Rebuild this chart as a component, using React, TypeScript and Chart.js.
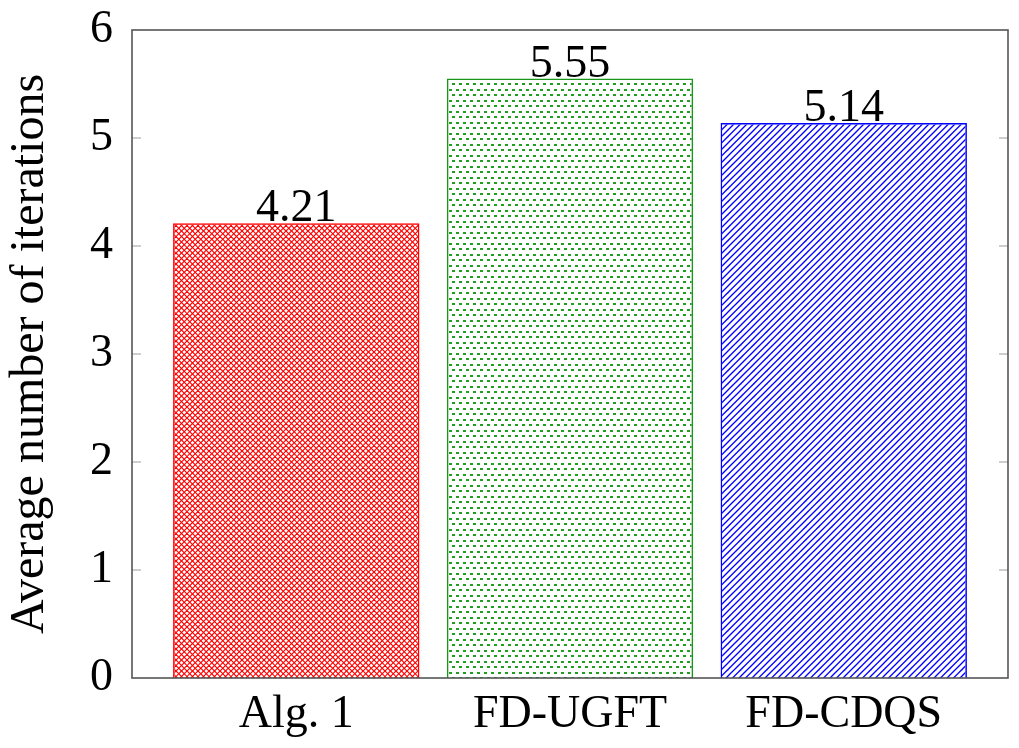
import React, { useEffect, useRef } from "react";
import { Chart, registerables } from "chart.js";

Chart.register(...registerables);

// Methods compared and their average iteration counts
const CATEGORIES = ["Alg. 1", "FD-UGFT", "FD-CDQS"];
const AVG_ITERATIONS = [4.21, 5.55, 5.14];
const Y_TICKS = [0, 1, 2, 3, 4, 5, 6];
const Y_TITLE = "Average number of iterations";

const FONT = "'Liberation Serif', 'Times New Roman', serif";
const FONT_SIZE = 46;
const TITLE_SIZE = 48;

// Hatch fill: diagonal crosshatch
function crosshatch(color: string): CanvasPattern | string {
  const t = 11;
  const c = document.createElement("canvas");
  c.width = t;
  c.height = t;
  const ctx = c.getContext("2d");
  if (!ctx) return color;
  ctx.strokeStyle = color;
  ctx.lineWidth = 1.2;
  for (let k = -3; k <= 6; k++) {
    const o = k * 5.5;
    ctx.beginPath();
    ctx.moveTo(-5, o + 5);
    ctx.lineTo(t + 5, o - t - 5);
    ctx.stroke();
    ctx.beginPath();
    ctx.moveTo(-5, -5 - o);
    ctx.lineTo(t + 5, t + 5 - o);
    ctx.stroke();
  }
  return ctx.createPattern(c, "repeat") || color;
}

// Hatch fill: staggered dots
function dots(color: string): CanvasPattern | string {
  const w = 14;
  const h = 11;
  const c = document.createElement("canvas");
  c.width = w;
  c.height = h;
  const ctx = c.getContext("2d");
  if (!ctx) return color;
  ctx.fillStyle = color;
  ctx.fillRect(1, 1, 3, 2);
  ctx.fillRect(8, 1, 3, 2);
  ctx.fillRect(4, 6, 3, 2);
  ctx.fillRect(11, 6, 3, 2);
  return ctx.createPattern(c, "repeat") || color;
}

// Hatch fill: north-east diagonal lines
function northEastLines(color: string): CanvasPattern | string {
  const t = 13;
  const c = document.createElement("canvas");
  c.width = t;
  c.height = t;
  const ctx = c.getContext("2d");
  if (!ctx) return color;
  ctx.strokeStyle = color;
  ctx.lineWidth = 1.3;
  for (let k = -2; k <= 6; k++) {
    const o = k * 6.5;
    ctx.beginPath();
    ctx.moveTo(-5, o + 5);
    ctx.lineTo(t + 5, o - t - 5);
    ctx.stroke();
  }
  return ctx.createPattern(c, "repeat") || color;
}

// Box around the plot area with small inward ticks on both sides
const frameTicks = {
  id: "frameTicks",
  afterDatasetsDraw(chart: any) {
    const { ctx, chartArea } = chart;
    const { left, right, top, bottom } = chartArea;
    const y = chart.scales.y;
    ctx.save();
    ctx.strokeStyle = "#bdbdbd";
    ctx.lineWidth = 1.4;
    Y_TICKS.forEach((v) => {
      const py = y.getPixelForValue(v);
      if (v === Y_TICKS[0] || v === Y_TICKS[Y_TICKS.length - 1]) return;
      ctx.beginPath();
      ctx.moveTo(left, py);
      ctx.lineTo(left + 9, py);
      ctx.moveTo(right, py);
      ctx.lineTo(right - 9, py);
      ctx.stroke();
    });
    ctx.strokeStyle = "#555555";
    ctx.lineWidth = 1.6;
    ctx.strokeRect(left, top, right - left, bottom - top);
    ctx.restore();
  },
};

// Value printed on top of each bar
const barValues = {
  id: "barValues",
  afterDatasetsDraw(chart: any) {
    const { ctx } = chart;
    const meta = chart.getDatasetMeta(0);
    ctx.save();
    ctx.font = `${FONT_SIZE}px ${FONT}`;
    ctx.fillStyle = "#000";
    ctx.textAlign = "center";
    ctx.textBaseline = "alphabetic";
    meta.data.forEach((bar: any, i: number) => {
      ctx.fillText(AVG_ITERATIONS[i].toFixed(2), bar.x, bar.y - 2);
    });
    ctx.restore();
  },
};

export default function App() {
  const canvasRef = useRef<HTMLCanvasElement | null>(null);

  useEffect(() => {
    document.body.style.margin = "0";
    const canvas = canvasRef.current;
    if (!canvas) return;

    const fills = [crosshatch("#ff0000"), dots("#1f9e1f"), northEastLines("#0000ff")];
    const borders = ["#ff0000", "#1a961a", "#0000ff"];

    const chart = new Chart(canvas, {
      type: "bar",
      data: {
        datasets: [
          {
            data: AVG_ITERATIONS.map((v, i) => ({ x: i, y: v })),
            backgroundColor: fills as any,
            borderColor: borders,
            borderWidth: 1.5,
            barPercentage: 0.9,
            categoryPercentage: 1,
          },
        ],
      },
      options: {
        animation: false,
        responsive: false,
        layout: { padding: { top: 30, right: 11, bottom: 0, left: 0 } },
        plugins: {
          legend: { display: false },
          tooltip: { enabled: false },
        },
        scales: {
          x: {
            type: "linear",
            offset: false,
            min: -0.6,
            max: 2.6,
            grid: { display: false, drawTicks: false, offset: false },
            border: { display: false },
            afterBuildTicks: (scale: any) => {
              scale.ticks = CATEGORIES.map((_, i) => ({ value: i }));
            },
            afterFit: (scale: any) => {
              scale.height = 70;
              scale.paddingLeft = 0;
              scale.paddingRight = 0;
            },
            ticks: {
              padding: 9,
              color: "#000",
              font: { family: FONT, size: FONT_SIZE },
              callback: (v: any) => CATEGORIES[Number(v)] ?? "",
            },
          },
          y: {
            min: 0,
            max: 6,
            grid: { display: false, drawTicks: false },
            border: { display: false },
            afterBuildTicks: (scale: any) => {
              scale.ticks = Y_TICKS.map((v) => ({ value: v }));
            },
            afterFit: (scale: any) => {
              scale.width = 132;
              scale.paddingTop = 0;
              scale.paddingBottom = 0;
            },
            ticks: {
              padding: 19,
              color: "#000",
              font: { family: FONT, size: FONT_SIZE },
            },
            title: {
              display: true,
              text: Y_TITLE,
              color: "#000",
              font: { family: FONT, size: TITLE_SIZE, lineHeight: 1.2 },
              padding: { top: 2, bottom: 0 },
            },
          },
        },
      },
      plugins: [frameTicks, barValues],
    });

    return () => chart.destroy();
  }, []);

  return (
    <div style={{ width: 1019, height: 748 }}>
      <canvas ref={canvasRef} width={1019} height={748} />
    </div>
  );
}
